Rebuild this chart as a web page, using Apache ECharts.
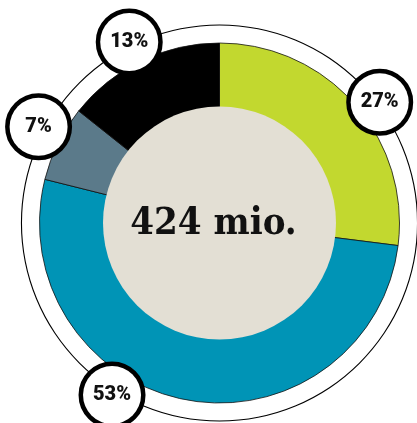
<!DOCTYPE html>
<html>
<head>
<meta charset="utf-8">
<script src="https://cdn.jsdelivr.net/npm/echarts@6/dist/echarts.min.js"></script>
<style>html,body{margin:0;padding:0;background:#fff;}#c{width:417px;height:423px;}</style>
</head>
<body>
<div id="c"></div>
<script>
// Data
var categories = ['A', 'B', 'C', 'D'];
var sliceValues = [27, 51.9, 6.8, 14.3];
var labelTexts = ['27%', '53%', '7%', '13%'];
var totalText = '424 mio.';

// Styling (kept out of data)
var colors = ['#c2d82f', '#0094b6', '#5b7a8a', '#000000'];
var CX = 219.5, CY = 223;
var labelAngles = [53, 212, 298, 333.5];
var labelRadii = [200.6, 202.8, 204.9, 202.3];

var chart = echarts.init(document.getElementById('c'), null, {renderer: 'canvas'});
var option = {
  animation: false,
  backgroundColor: '#ffffff',
  series: [
    {
      type: 'pie', silent: true, center: [CX, CY], radius: [197.5, 198.6],
      label: {show: false}, labelLine: {show: false},
      itemStyle: {color: '#000'},
      data: [{value: 1, name: 'ring'}], z: 1
    },
    {
      type: 'pie', center: [CX, CY], radius: [110, 180], startAngle: 90, clockwise: true,
      itemStyle: {borderColor: '#111', borderWidth: 0.8},
      labelLine: {show: false},
      label: {
        show: true, position: 'outside',
        formatter: function (p) { return labelTexts[p.dataIndex]; },
        fontFamily: 'Roboto', fontWeight: 900, fontSize: 20, color: '#111',
        backgroundColor: '#fff', borderColor: '#000', borderWidth: 4.5, borderRadius: 29,
        width: 58, height: 58, lineHeight: 58, align: 'center', verticalAlign: 'middle', padding: 0
      },
      labelLayout: function (p) {
        var a = labelAngles[p.dataIndex] * Math.PI / 180;
        var r = labelRadii[p.dataIndex];
        return {x: CX + r * Math.sin(a), y: CY - r * Math.cos(a), align: 'center', verticalAlign: 'middle'};
      },
      data: categories.map(function (c, i) {
        return {name: c, value: sliceValues[i], itemStyle: {color: colors[i]}};
      }),
      z: 2
    },
    {
      type: 'pie', silent: true, center: [CX, CY], radius: [0, 116.5],
      labelLine: {show: false},
      itemStyle: {color: '#e3dfd4'},
      label: {
        show: true, position: 'center', formatter: totalText,
        fontFamily: 'DejaVu Serif Condensed', fontWeight: 'bold', fontSize: 38, color: '#111',
        offset: [-6, 1]
      },
      data: [{value: 1, name: 'total'}], z: 3
    }
  ]
};
chart.setOption(option);
</script>
</body>
</html>
